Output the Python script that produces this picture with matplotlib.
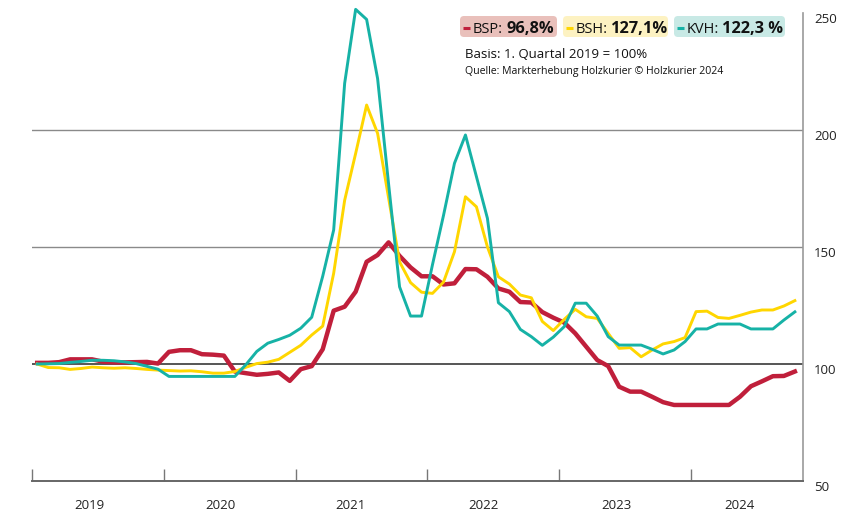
import numpy as np
import matplotlib
matplotlib.use("Agg")
import matplotlib.pyplot as plt
from matplotlib.patches import FancyBboxPatch
from matplotlib.lines import Line2D

plt.rcParams['font.family'] = ['Open Sans', 'DejaVu Sans']

# ============ data (monthly index, Jan 2019 = 100) ============

years = ['2019', '2020', '2021', '2022', '2023', '2024']

bsp = [100.5, 100.5, 100.8, 102.0, 102.0, 102.0, 101.0, 100.7, 100.7, 100.8, 100.9, 100.2,
       105.2, 105.9, 105.9, 104.2, 104.0, 103.6, 96.8, 96.1, 95.4, 95.8, 96.4, 92.8,
       97.8, 99.1, 106.3, 122.8, 124.5, 130.9, 143.7, 146.6, 152.0, 146.2, 141.3, 137.5,
       137.5, 134.0, 134.5, 140.6, 140.5, 137.3, 132.3, 130.9, 126.5, 126.3, 122.2, 119.8,
       117.7, 113.1, 107.4, 101.7, 99.1, 90.3, 88.2, 88.2, 86.0, 83.7, 82.5, 82.5,
       82.5, 82.5, 82.5, 82.5, 86.0, 90.5, 92.6, 94.8, 94.9, 96.8]

bsh = [100.0, 98.5, 98.4, 97.7, 98.1, 98.7, 98.4, 98.2, 98.4, 98.1, 97.7, 97.4,
       97.2, 97.0, 97.1, 96.7, 96.1, 96.1, 96.8, 98.6, 100.2, 100.8, 102.0, 105.0,
       108.0, 112.4, 116.2, 138.8, 170.0, 190.0, 210.7, 198.6, 171.0, 143.7, 134.8, 130.7,
       130.2, 135.0, 148.0, 171.5, 167.2, 150.1, 137.3, 134.2, 129.5, 128.3, 118.2, 114.3,
       119.1, 123.4, 120.2, 119.5, 113.1, 106.7, 107.0, 103.1, 106.0, 108.6, 109.6, 111.3,
       122.4, 122.6, 119.9, 119.5, 120.8, 122.2, 123.1, 123.1, 124.8, 127.1]

kvh = [100.0, 100.1, 100.2, 100.7, 101.1, 101.6, 101.6, 101.4, 100.9, 100.2, 99.0, 97.8,
       94.7, 94.7, 94.7, 94.7, 94.7, 94.7, 94.7, 99.7, 105.4, 108.9, 110.5, 112.3,
       115.3, 120.0, 137.5, 157.3, 220.0, 251.6, 247.3, 222.0, 177.0, 133.0, 120.5, 120.5,
       142.5, 163.5, 185.8, 197.9, 180.1, 162.3, 126.2, 122.4, 114.8, 111.7, 108.0, 111.5,
       116.0, 126.0, 126.0, 120.5, 111.7, 108.1, 108.1, 108.1, 106.3, 104.3, 106.0, 109.6,
       115.0, 115.0, 117.1, 117.1, 117.1, 115.0, 115.0, 115.0, 118.8, 122.3]

legend_names = ['BSP:', 'BSH:', 'KVH:']
legend_values = ['96,8%', '127,1%', '122,3 %']

c_bsp = '#c01f3b'
c_bsh = '#ffd600'
c_kvh = '#16b2a6'

# ============ figure ============

W, H = 858, 518
fig = plt.figure(figsize=(W / 100, H / 100), dpi=100)
ax = fig.add_axes([32 / W, 37 / H, 771 / W, 481 / H])

x = np.arange(len(bsp)) + 0.2
x0 = -0.273  # start of 2019 on the month axis
ax.set_xlim(x0, 69.94)
ax.set_ylim(50, 255.6)

ax.axhline(150, color='#8a8a8a', lw=1.0, zorder=1)
ax.axhline(200, color='#8a8a8a', lw=1.0, zorder=1)
ax.axhline(100, color='#555555', lw=1.4, zorder=1)

ax.plot(x, bsp, color=c_bsp, lw=3.2, zorder=3)
ax.plot(x, bsh, color=c_bsh, lw=2.1, zorder=4)
ax.plot(x, kvh, color=c_kvh, lw=2.1, zorder=5)

for s in ['left', 'top']:
    ax.spines[s].set_visible(False)
ax.spines['right'].set_color('#999999')
ax.spines['right'].set_linewidth(1.2)
ax.spines['right'].set_bounds(50, 250)
ax.spines['bottom'].set_color('#666666')
ax.spines['bottom'].set_linewidth(1.4)

# y ticks on the right
ax.yaxis.tick_right()
ax.set_yticks([50, 100, 150, 200, 250])
ax.tick_params(axis='y', length=0, pad=8, labelsize=9.5, labelcolor='#222222')
for lab in ax.get_yticklabels():
    lab.set_verticalalignment('top')

# x: year boundaries as ticks, year names in between
bounds = [x0 + 12 * k for k in range(len(years))]
label_off = [5.2, 5.2, 5.0, 5.1, 5.2, 4.4]
ax.set_xticks(bounds)
ax.set_xticklabels([])
ax.set_xticks([b + o for b, o in zip(bounds, label_off)], minor=True)
ax.set_xticklabels(years, minor=True)
ax.tick_params(axis='x', which='major', direction='in', length=9, width=1, color='#777777')
ax.tick_params(axis='x', which='minor', length=0, pad=13, labelsize=9.5, labelcolor='#222222')

# ============ legend boxes and notes (pixel positions) ============

def px(xp):
    return xp / 100

def py(yp):
    return (H - yp) / 100

tr = fig.dpi_scale_trans
boxes = [(460, 557, '#e9c0bb', c_bsp), (563, 668, '#fdf2c2', c_bsh), (674, 785, '#c8e9e5', c_kvh)]
r = fig.canvas.get_renderer()
for (bx0, bx1, bg, col), name, val in zip(boxes, legend_names, legend_values):
    fig.add_artist(FancyBboxPatch((px(bx0), py(37)), px(bx1 - bx0), px(21),
                                  boxstyle='round,pad=0,rounding_size=0.04',
                                  transform=tr, facecolor=bg, edgecolor='none'))
    fig.add_artist(Line2D([px(bx0 + 3), px(bx0 + 10)], [py(28), py(28)],
                          transform=tr, color=col, lw=2.2, solid_capstyle='butt'))
    t = fig.text(px(bx0 + 13), py(33), name, transform=tr, fontsize=10.5,
                 va='baseline', ha='left', color='#111111')
    bb = t.get_window_extent(renderer=r)
    fig.text(bb.x1 / 100 + 0.03, py(33), val, transform=tr, fontsize=11.8, fontweight='bold',
             va='baseline', ha='left', color='#111111')

fig.text(px(465), py(58), 'Basis: 1. Quartal 2019 = 100%', transform=tr, fontsize=9.5,
         va='baseline', ha='left', color='#111111')
fig.text(px(465), py(74), 'Quelle: Markterhebung Holzkurier © Holzkurier 2024', transform=tr,
         fontsize=7.6, va='baseline', ha='left', color='#111111')

fig.savefig('out.png', dpi=100)
